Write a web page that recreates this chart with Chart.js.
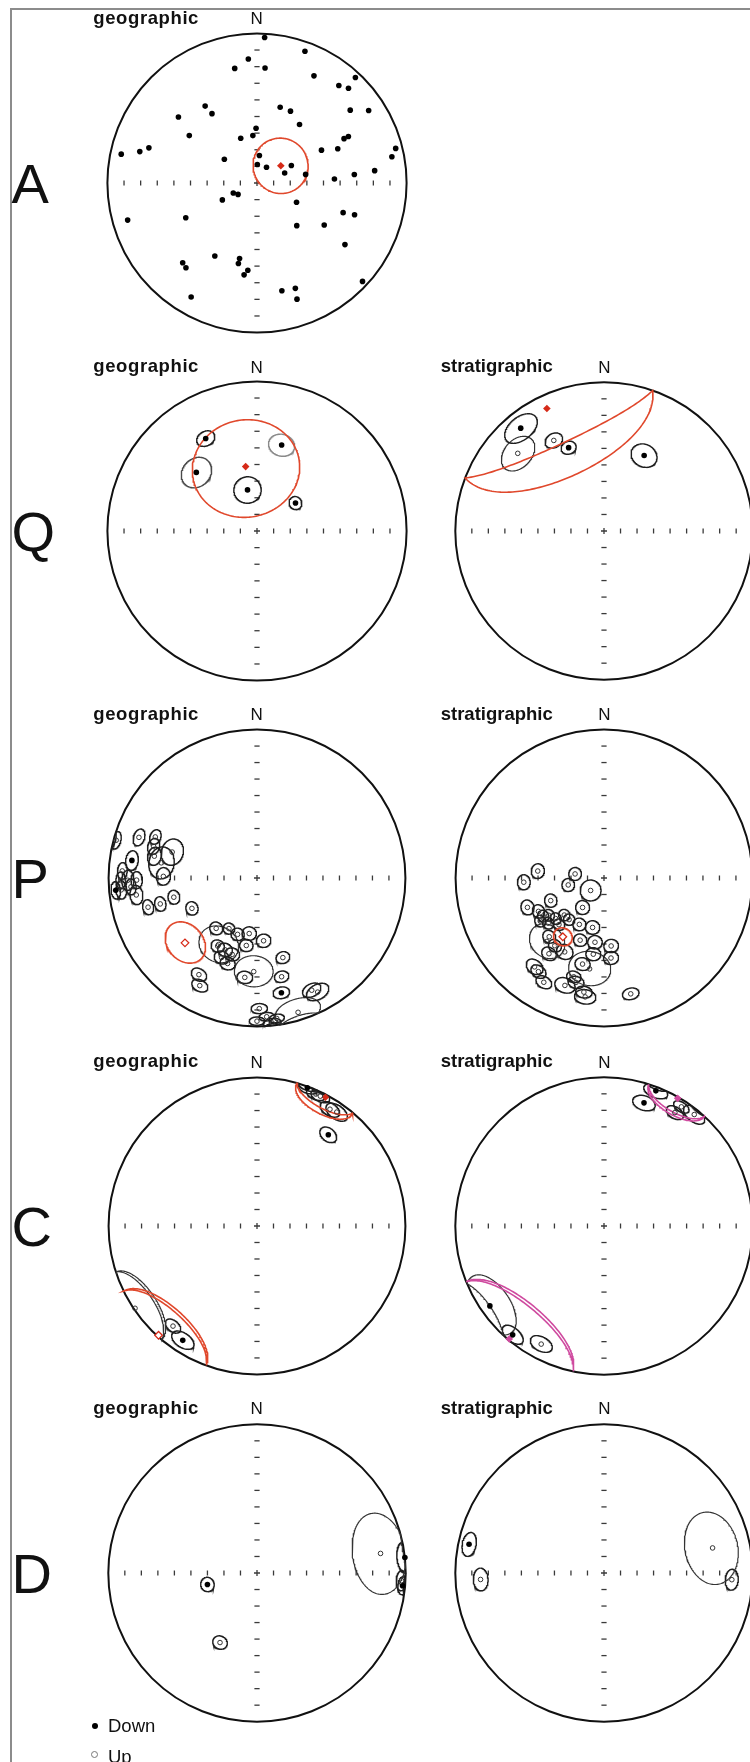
<!DOCTYPE html>
<html>
<head>
<meta charset="utf-8">
<script src="https://cdn.jsdelivr.net/npm/chart.js@4.4.1/dist/chart.umd.min.js"></script>
<style>
  html, body { margin: 0; padding: 0; background: #fff; }
  body { position: relative; width: 750px; height: 1762px; overflow: hidden;
         font-family: "Liberation Sans", Arial, Helvetica, sans-serif; color: #111; }
  .frame { position: absolute; left: 10px; top: 8px; width: 800px; height: 1800px;
           border-left: 2px solid #8c8c8c; border-top: 2px solid #8c8c8c; }
  .net { position: absolute; }
  .lbl { position: absolute; white-space: nowrap; line-height: 1; }
  .mark { position: absolute; border-radius: 50%; box-sizing: border-box; }
</style>
</head>
<body>
<div class="frame"></div>
<script>
// ---- Site directions: [declination, inclination, a95] (negative inclination = upper hemisphere) ----
const aGeoDirs = [
  [3,3],[20,7],[356,18],[349,23],[4,24],[28,20],[43,4],[40,16],[44,13],[326,38],
  [327,44],[310,32],[17,46],[25,46],[52,22],[57,12],[36,50],[359,60],[355,64],[340,64],
  [305,44],[63,35],[63,32],[67,41],[63,50],[76,5],[79,9],[282,8],[285,20],[288,25],
  [306,68],[5,75],[1,80],[31,80],[63,69],[70,74],[80,63],[84,22],[87,47],[85,35],
  [247,76],[239,78],[244,69],[116,66],[254,11],[244,46],[109,39],[108,32],[137,58],[122,46],
  [125,29],[210,43],[223,28],[220,27],[193,47],[193,44],[186,41],[188,38],[133,4],[167,27],
  [160,26],[161,19],[210,13]
];
const aGeoMeans = [[54,74,15]];

const qGeoSites = [[331,30,4.5],[16,40,6.5],[314,43,8.2],[347,67,7.3],[54,64,3.5]];
const qGeoMeans = [[350,54,28]];
const qStratSites = [[321,12,8],[312,-23,9],[331,-31,4.4],[337,39,3.8],[28,42,6.7]];
const qStratMeans = [[335,10,45]];

const pGeoSites = [
  [289,-17,3.8],[292,-27,3.5],[287,-28,3.8],[282,-30,4.3],[287,-40,6.6],[271,-37,4.3],[279,-35,7.8],
  [285,-2,3.5],[278,16,4.3],[273,-10,3.5],[269,-9,3.5],[269,-14,4.3],[269,-20,3.8],[265,5,3.5],
  [265,-9,3.8],[266,-16,3.5],[262,-19,4.3],[255,-25,3.5],[255,-33,3.5],[257,-42,3.5],[245,-50,3.5],
  [219,-54,3.5],[209,-58,3.1],[199,-57,3.5],[188,-59,3.8],[174,-55,3.8],[210,-46,3.5],[204,-46,3.8],
  [198,-45,3.8],[204,-41,3.8],[199,-39,3.8],[189,-52,3.5],[210,-47,10.4],[211,-25,3.8],[208,-19,3.8],
  [182,-37,9.5],[187,-33,3.8],[162,-43,3.5],[166,-32,3.5],[168,22,3.8],[154,-17,4.3],[152,-14,5.2],
  [179,-13,3.5],[176,-7,3.1],[172,-5,3.1],[163,-6,9.5],[174,-2,3.5],[180,-4,3.1]
];
const pGeoMeans = [[228,-35,11]];
const pStratSites = [
  [267,-45,3.8],[276,-53,3.8],[278,-74,3.5],[259,-70,3.5],[227,-80,5.7],[249,-44,3.8],[247,-58,3.5],
  [216,-70,3.8],[238,-50,3.1],[236,-53,3.1],[230,-55,3.1],[227,-60,3.1],[220,-60,3.1],[231,-50,3.1],
  [224,-54,3.1],[236,-47,3.1],[243,-49,3.5],[193,-62,3.8],[208,-61,3.5],[201,-53,3.5],[222,-42,9.5],
  [223,-45,3.5],[216,-43,3.5],[216,-37,3.8],[208,-43,4.3],[188,-54,3.8],[174,-52,3.8],[188,-47,3.8],
  [175,-45,3.8],[194,-40,3.8],[189,-38,10.4],[218,-25,4.3],[215,-24,3.8],[210,-20,3.8],[200,-24,4.8],
  [195,-28,3.8],[190,-23,3.8],[189,-20,4.8],[167,-21,3.8],[197,-31,3.5]
];
const pStratMeans = [[215,-50,5]];

const cGeoSites = [[20,1,4],[24,-3,4],[26,-3,4],[32,-8,4.5],[35,-7,5],[38,23,4.3],
                   [236,-1,16],[220,-13,3.8],[213,9,5.2]];
const cGeoMeans = [[28,2,12.5],[222,-1,22]];
const cStratSites = [[21,3,5],[18,14,5],[32,-11,4],[33,-5,3.5],[39,-4,5],
                     [235,7,14],[220,5,5],[208,-11,5]];
const cStratMeans = [[30,1,12.5],[220,1,28]];

const dGeoSites = [[257,62,3.8],[208,-46,3.8],[81,-17,18],[84,0,6],[93,-3,4],[95,2,3.5]];
const dStratSites = [[282,8,5],[267,-18,5],[77,-26,17],[93,-15,4.5]];

// cone outline shades that differ from the default dark grey
const qGeoShades = [null, '#8a8a8a', '#4a4a4a', null, null];

// ---- Panel texts ----
const rowLetters = ['A', 'Q', 'P', 'C', 'D'];
const frameTitles = ['geographic', 'stratigraphic'];
const legendLabels = ['Down', 'Up'];

// ---- Layout ----
const ROW_Y = [182.5, 531, 878.3, 1226, 1572.7];
const COL_X = [256.7, 604.3];
const NET_R = 153.2;
const CANVAS = 340;
const RED = '#e0482c', RED_MARK = '#d62a18', MAGENTA = '#cf4a9f';

const RAD = Math.PI / 180;

// Lambert equal-area projection onto the unit net (x east, y north)
function toNet(dec, inc) {
  const r = Math.SQRT2 * Math.sin((90 - Math.abs(inc)) * RAD / 2);
  return { x: r * Math.sin(dec * RAD), y: r * Math.cos(dec * RAD) };
}

// Small circle of radius a95 about a direction, folded onto the lower-hemisphere net
function coneOutline(dec, inc, a95) {
  const d = dec * RAD, i = inc * RAD, a = a95 * RAD;
  const c = [Math.cos(i) * Math.cos(d), Math.cos(i) * Math.sin(d), Math.sin(i)];
  const ref = Math.abs(c[2]) > 0.9 ? [1, 0, 0] : [0, 0, 1];
  let u = [ref[1]*c[2] - ref[2]*c[1], ref[2]*c[0] - ref[0]*c[2], ref[0]*c[1] - ref[1]*c[0]];
  const n = Math.hypot(u[0], u[1], u[2]);
  u = u.map(v => v / n);
  const w = [c[1]*u[2] - c[2]*u[1], c[2]*u[0] - c[0]*u[2], c[0]*u[1] - c[1]*u[0]];
  const pts = [];
  for (let t = 0; t <= 360; t += 2) {
    const ct = Math.cos(t * RAD), st = Math.sin(t * RAD);
    const p = [0, 1, 2].map(k => Math.cos(a) * c[k] + Math.sin(a) * (ct * u[k] + st * w[k]));
    const pdec = Math.atan2(p[1], p[0]) / RAD;
    const pinc = Math.asin(Math.max(-1, Math.min(1, p[2]))) / RAD;
    pts.push(toNet(pdec, pinc));
  }
  return pts;
}

// Primitive circle, axis ticks and centre cross
const netFrame = {
  id: 'netFrame',
  beforeDatasetsDraw(chart) {
    const { ctx, scales: { x, y } } = chart;
    const cx = x.getPixelForValue(0), cy = y.getPixelForValue(0);
    const r = x.getPixelForValue(1) - cx;
    ctx.save();
    ctx.strokeStyle = '#3a3a3a';
    ctx.lineWidth = 1.3;
    for (let k = 1; k <= 8; k++) {
      const t = r * k / 9;
      for (const s of [-1, 1]) {
        ctx.beginPath();
        ctx.moveTo(cx + s * t, cy - 2.5); ctx.lineTo(cx + s * t, cy + 2.5);
        ctx.stroke();
        ctx.beginPath();
        ctx.moveTo(cx - 2.6, cy + s * t); ctx.lineTo(cx + 2.6, cy + s * t);
        ctx.stroke();
      }
    }
    ctx.beginPath();
    ctx.moveTo(cx - 3, cy); ctx.lineTo(cx + 3, cy);
    ctx.moveTo(cx, cy - 3); ctx.lineTo(cx, cy + 3);
    ctx.stroke();
    ctx.strokeStyle = '#111';
    ctx.lineWidth = 2;
    ctx.beginPath();
    ctx.arc(cx, cy, r, 0, Math.PI * 2);
    ctx.stroke();
    ctx.restore();
  }
};

function buildNet(row, col, sites, means, opts = {}) {
  const cx = COL_X[col], cy = ROW_Y[row];
  const cv = document.createElement('canvas');
  cv.width = CANVAS; cv.height = CANVAS;
  cv.className = 'net';
  cv.style.left = (cx - CANVAS / 2) + 'px';
  cv.style.top = (cy - CANVAS / 2) + 'px';
  document.body.appendChild(cv);

  const datasets = [];
  const down = sites.filter(s => s[1] >= 0).map(s => toNet(s[0], s[1]));
  const up = sites.filter(s => s[1] < 0).map(s => toNet(s[0], s[1]));
  datasets.push({ data: down, pointStyle: 'circle', pointRadius: 2.8, backgroundColor: '#000',
                  borderColor: '#000', borderWidth: 0, order: 0 });
  datasets.push({ data: up, pointStyle: 'circle', pointRadius: 2.3, backgroundColor: 'rgba(255,255,255,0)',
                  borderColor: '#333', borderWidth: 1, order: 0 });
  sites.forEach((s, k) => {
    if (!s[2]) return;
    const big = s[2] >= 9;
    const shade = (opts.shades && opts.shades[k]) || (big ? '#333' : '#1e1e1e');
    datasets.push({ data: coneOutline(s[0], s[1], s[2]), showLine: true, pointRadius: 0,
                    borderColor: shade, borderWidth: big ? 1.15 : 1.4, order: 3 });
  });
  const mc = opts.meanColor || RED;
  const mk = opts.markColor || RED_MARK;
  means.forEach(m => {
    datasets.push({ data: coneOutline(m[0], m[1], m[2]), showLine: true, pointRadius: 0,
                    borderColor: mc, borderWidth: 1.6, order: 2 });
    const filled = m[1] >= 0;
    datasets.push({ data: [toNet(m[0], m[1])], pointStyle: 'rectRot', pointRadius: 3.8,
                    backgroundColor: filled ? mk : '#fff', borderColor: mk,
                    borderWidth: filled ? 0 : 1.3, order: 1 });
  });

  const half = CANVAS / 2 / NET_R;
  new Chart(cv, {
    type: 'scatter',
    data: { datasets },
    options: {
      responsive: false, animation: false, events: [],
      layout: { padding: 0 },
      elements: { line: { tension: 0, fill: false } },
      scales: {
        x: { type: 'linear', min: -half, max: half, display: false },
        y: { type: 'linear', min: -half, max: half, display: false }
      },
      plugins: { legend: { display: false }, tooltip: { enabled: false } }
    },
    plugins: [netFrame]
  });
}

// text placed by its baseline (Liberation Sans: baseline sits 0.8465 em below the line top)
function addText(txt, x, baseline, size, weight, anchor, spacing) {
  const el = document.createElement('div');
  el.className = 'lbl';
  el.textContent = txt;
  el.style.fontSize = size + 'px';
  el.style.fontWeight = weight;
  if (spacing) el.style.letterSpacing = spacing + 'px';
  el.style.top = (baseline - 0.8465 * size) + 'px';
  el.style.left = x + 'px';
  if (anchor === 'middle') el.style.transform = 'translateX(-50%)';
  document.body.appendChild(el);
}

const panels = [
  [0, 0, aGeoDirs, aGeoMeans, {}],
  [1, 0, qGeoSites, qGeoMeans, { shades: qGeoShades }],
  [1, 1, qStratSites, qStratMeans, {}],
  [2, 0, pGeoSites, pGeoMeans, {}],
  [2, 1, pStratSites, pStratMeans, {}],
  [3, 0, cGeoSites, cGeoMeans, {}],
  [3, 1, cStratSites, cStratMeans, { meanColor: MAGENTA, markColor: MAGENTA }],
  [4, 0, dGeoSites, [], {}],
  [4, 1, dStratSites, [], {}]
];

panels.forEach(([row, col, sites, means, opts]) => {
  buildNet(row, col, sites, means, opts);
  const cy = ROW_Y[row];
  if (col === 0) addText(frameTitles[0], 93.3, cy - 158, 18.5, 'bold', null, 0.6);
  else addText(frameTitles[1], 440.7, cy - 158, 18.5, 'bold');
  addText('N', COL_X[col], cy - 158, 17, 'normal', 'middle');
});

rowLetters.forEach((t, k) => addText(t, 11.5, ROW_Y[k] + 20.5, 56, 'normal'));

// legend
function addMark(x, y, r, fill, stroke) {
  const el = document.createElement('div');
  el.className = 'mark';
  el.style.left = (x - r) + 'px'; el.style.top = (y - r) + 'px';
  el.style.width = (2 * r) + 'px'; el.style.height = (2 * r) + 'px';
  el.style.background = fill;
  if (stroke) el.style.border = '1px solid ' + stroke;
  document.body.appendChild(el);
}
addMark(94.5, 1726, 3, '#000');
addText(legendLabels[0], 108, 1732.7, 18.5, 'normal');
addMark(94.5, 1754.3, 3.6, '#fff', '#777');
addText(legendLabels[1], 108, 1763.5, 18.5, 'normal');
</script>
</body>
</html>
